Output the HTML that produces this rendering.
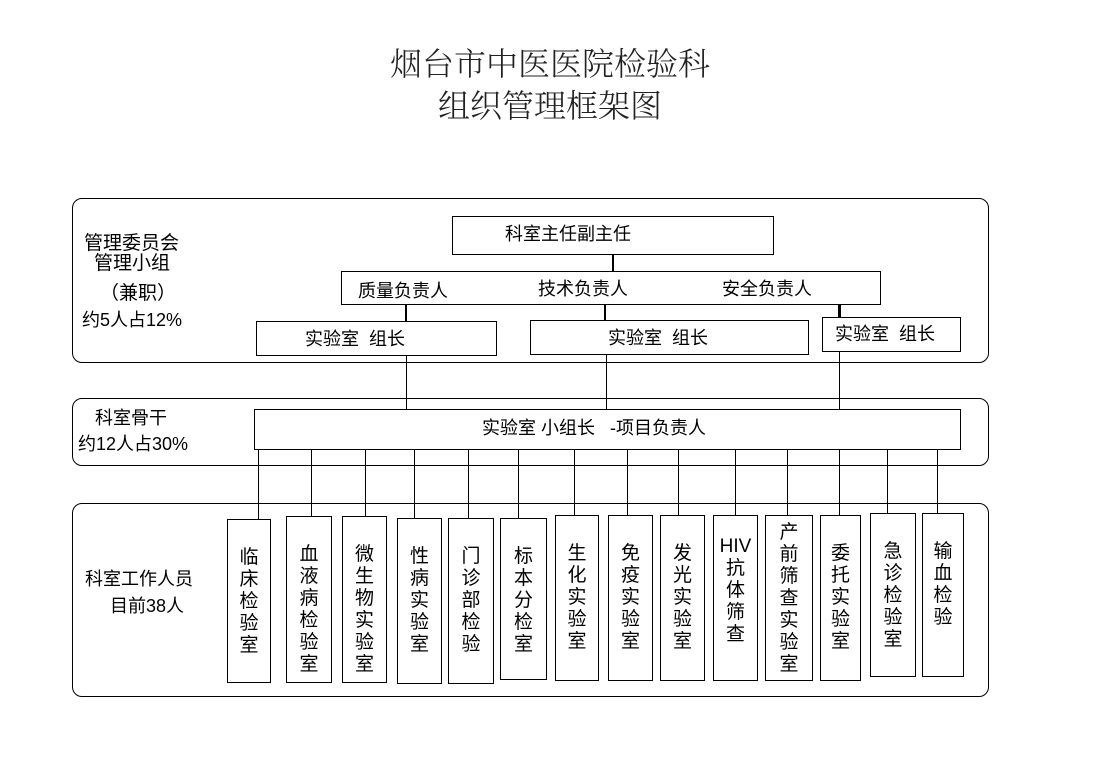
<!DOCTYPE html>
<html><head><meta charset="utf-8"><style>
body{margin:0;width:1100px;height:759px;background:#fff;position:relative;overflow:hidden;font-family:"Liberation Sans","Noto Sans CJK SC",sans-serif;color:#000}
.b{position:absolute;border:1.5px solid #000;box-sizing:border-box;background:#fff}
.r{position:absolute;border:1.5px solid #000;border-radius:10px;box-sizing:border-box}
.t{position:absolute;font-size:18px;line-height:20px;white-space:nowrap}
.v{position:absolute;width:1px;background:#000}
.vb{position:absolute;border:1.5px solid #000;box-sizing:border-box;background:#fff;font-size:19px;line-height:22px;text-align:center;padding-top:27px}
.ti{position:absolute;left:0;width:1100px;text-align:center;font-family:"Liberation Serif","Noto Serif CJK SC",serif;font-size:32px;font-weight:300;color:#222;line-height:36px}
</style></head><body>
<div class="ti" style="top:46px">烟台市中医医院检验科</div>
<div class="ti" style="top:88px">组织管理框架图</div>

<div class="r" style="left:72px;top:198px;width:917px;height:165px"></div>
<div class="r" style="left:72px;top:398px;width:917px;height:68px"></div>
<div class="r" style="left:72px;top:503px;width:917px;height:194px"></div>

<div class="t" style="left:84px;top:234px;font-size:19px">管理委员会</div>
<div class="t" style="left:94px;top:254px;font-size:19px">管理小组</div>
<div class="t" style="left:100px;top:284px;font-size:19px">（兼职）</div>
<div class="t" style="left:82px;top:310px;font-size:18px">约5人占12%</div>
<div class="t" style="left:95px;top:408px">科室骨干</div>
<div class="t" style="left:78px;top:434px">约12人占30%</div>
<div class="t" style="left:85px;top:569px">科室工作人员</div>
<div class="t" style="left:110px;top:596px">目前38人</div>

<div class="b" style="left:452px;top:216px;width:322px;height:39px"></div>
<div class="t" style="left:505px;top:224px">科室主任副主任</div>
<div class="v" style="left:612px;top:254px;height:18px;width:2px"></div>
<div class="b" style="left:341px;top:271px;width:540px;height:34px"></div>
<div class="t" style="left:358px;top:281px">质量负责人</div>
<div class="t" style="left:538px;top:279px">技术负责人</div>
<div class="t" style="left:722px;top:279px">安全负责人</div>
<div class="v" style="left:405px;top:304px;height:18px;width:2px"></div>
<div class="v" style="left:604px;top:304px;height:17px;width:2px"></div>
<div class="v" style="left:838px;top:304px;height:14px;width:3px"></div>

<div class="b" style="left:256px;top:321px;width:241px;height:35px"></div>
<div class="t" style="left:305px;top:329px">实验室&nbsp; 组长</div>
<div class="b" style="left:530px;top:320px;width:279px;height:35px"></div>
<div class="t" style="left:608px;top:328px">实验室&nbsp; 组长</div>
<div class="b" style="left:822px;top:317px;width:139px;height:35px"></div>
<div class="t" style="left:835px;top:324px">实验室&nbsp; 组长</div>

<div class="v" style="left:406px;top:355px;height:55px"></div>
<div class="v" style="left:606px;top:354px;height:56px"></div>
<div class="v" style="left:839px;top:351px;height:59px"></div>

<div class="b" style="left:254px;top:409px;width:707px;height:41px"></div>
<div class="t" style="left:482px;top:418px">实验室 小组长&nbsp;&nbsp; -项目负责人</div>

<div class="v" style="left:258px;top:449px;height:70px"></div>
<div class="v" style="left:311px;top:449px;height:67px"></div>
<div class="v" style="left:365px;top:449px;height:67px"></div>
<div class="v" style="left:414px;top:449px;height:69px"></div>
<div class="v" style="left:468px;top:449px;height:69px"></div>
<div class="v" style="left:518px;top:449px;height:69px"></div>
<div class="v" style="left:574px;top:449px;height:66px"></div>
<div class="v" style="left:627px;top:449px;height:66px"></div>
<div class="v" style="left:678px;top:449px;height:66px"></div>
<div class="v" style="left:735px;top:449px;height:66px"></div>
<div class="v" style="left:787px;top:449px;height:66px"></div>
<div class="v" style="left:839px;top:449px;height:66px"></div>
<div class="v" style="left:887px;top:449px;height:64px"></div>
<div class="v" style="left:937px;top:449px;height:64px"></div>

<div class="vb" style="left:227px;top:519px;width:44px;height:164px">临<br>床<br>检<br>验<br>室</div>
<div class="vb" style="left:286px;top:516px;width:46px;height:167px">血<br>液<br>病<br>检<br>验<br>室</div>
<div class="vb" style="left:342px;top:516px;width:45px;height:167px">微<br>生<br>物<br>实<br>验<br>室</div>
<div class="vb" style="left:397px;top:518px;width:45px;height:166px">性<br>病<br>实<br>验<br>室</div>
<div class="vb" style="left:448px;top:518px;width:46px;height:166px">门<br>诊<br>部<br>检<br>验</div>
<div class="vb" style="left:500px;top:518px;width:47px;height:162px">标<br>本<br>分<br>检<br>室</div>
<div class="vb" style="left:555px;top:515px;width:44px;height:166px">生<br>化<br>实<br>验<br>室</div>
<div class="vb" style="left:608px;top:515px;width:45px;height:166px">免<br>疫<br>实<br>验<br>室</div>
<div class="vb" style="left:660px;top:515px;width:45px;height:166px">发<br>光<br>实<br>验<br>室</div>
<div class="vb" style="left:713px;top:515px;width:45px;height:166px;padding-top:20px">HIV<br>抗<br>体<br>筛<br>查</div>
<div class="vb" style="left:765px;top:515px;width:48px;height:166px;padding-top:6px">产<br>前<br>筛<br>查<br>实<br>验<br>室</div>
<div class="vb" style="left:820px;top:515px;width:41px;height:166px">委<br>托<br>实<br>验<br>室</div>
<div class="vb" style="left:870px;top:513px;width:46px;height:164px">急<br>诊<br>检<br>验<br>室</div>
<div class="vb" style="left:922px;top:513px;width:42px;height:164px">输<br>血<br>检<br>验</div>
</body></html>
